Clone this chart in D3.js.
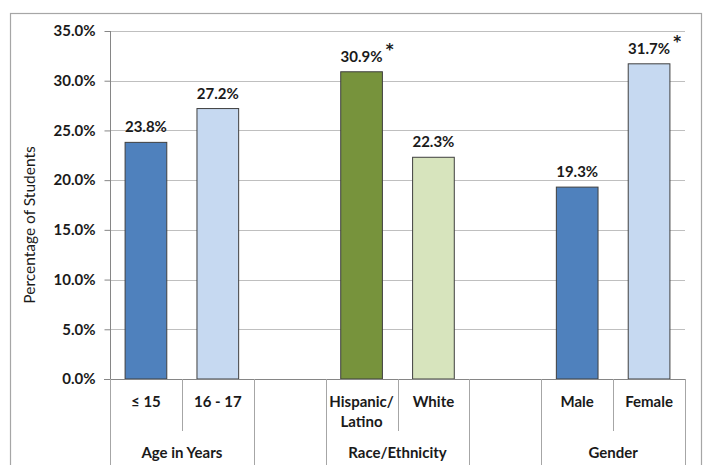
<!DOCTYPE html>
<html>
<head>
<meta charset="utf-8">
<script src="https://cdn.jsdelivr.net/npm/d3@7"></script>
<style>
  html, body { margin: 0; padding: 0; background: #fff; }
  svg { display: block; }
  text { font-family: Lato, "Open Sans", sans-serif; fill: #1a1a1a; }
</style>
</head>
<body>
<svg id="chart" width="709" height="465"></svg>
<script>
// ---- data ----
const slots = ["s0", "s1", "s2", "s3", "s4", "s5", "s6", "s7"];
const categoryLabels = ["≤ 15", "16 - 17", "", "Hispanic/|Latino", "White", "", "Male", "Female"];
const values = [23.8, 27.2, null, 30.9, 22.3, null, 19.3, 31.7];
const significant = [false, false, false, true, false, false, false, true];
const groupLabels = ["Age in Years", "", "Race/Ethnicity", "", "Gender"];
const groupSpans = [[0, 1], [2, 2], [3, 4], [5, 5], [6, 7]];
const yTicks = [0, 5, 10, 15, 20, 25, 30, 35];
const yTitle = "Percentage of Students";

// ---- styles ----
const barColors = ["#4F81BD", "#C6D9F1", "#fff", "#77933C", "#D7E4BD", "#fff", "#4F81BD", "#C6D9F1"];

const svg = d3.select("#chart");
const pLeft = 110, pRight = 685, pTop = 31, pBottom = 379;

// outer frame
svg.append("rect")
  .attr("x", 10.5).attr("y", 13.5).attr("width", 691).attr("height", 470)
  .attr("fill", "none").attr("stroke", "#A6A6A6").attr("stroke-width", 1.2);

const x = d3.scaleBand().domain(slots).range([pLeft, pRight]).paddingInner(0.42).paddingOuter(0.21);
const slotScale = d3.scaleBand().domain(slots).range([pLeft, pRight]).padding(0);
const y = d3.scaleLinear().domain([0, 35]).range([pBottom, pTop]);
const color = d3.scaleOrdinal().domain(slots).range(barColors);

// gridlines
svg.append("g").selectAll("line").data(yTicks.filter(d => d > 0)).join("line")
  .attr("x1", pLeft).attr("x2", pRight)
  .attr("y1", d => Math.round(y(d)) + 0.5).attr("y2", d => Math.round(y(d)) + 0.5)
  .attr("stroke", "#BFBFBF").attr("stroke-width", 1);

// y axis
const yAxis = svg.append("g").attr("transform", `translate(${pLeft + 0.5},0)`)
  .call(d3.axisLeft(y).tickValues(yTicks).tickSize(6).tickPadding(9)
    .tickFormat(d => d3.format(".1f")(d) + "%"));
yAxis.select(".domain").attr("stroke", "#868686").attr("d", `M0,${pTop}V${pBottom}`);
yAxis.selectAll(".tick line").attr("stroke", "#868686");
yAxis.selectAll(".tick text").style("font-family", "Lato, sans-serif")
  .style("font-size", "15px").style("font-weight", "bold").attr("fill", "#1a1a1a");

// y title
svg.append("text")
  .attr("transform", `translate(35,225) rotate(-90)`)
  .attr("text-anchor", "middle")
  .style("font-size", "15.5px")
  .text(yTitle);

// bars
const barData = slots.map((s, i) => ({ s, v: values[i], sig: significant[i] })).filter(d => d.v != null);
svg.append("g").selectAll("rect").data(barData).join("rect")
  .attr("x", d => x(d.s))
  .attr("y", d => y(d.v))
  .attr("width", x.bandwidth())
  .attr("height", d => y(0) - y(d.v))
  .attr("fill", d => color(d.s))
  .attr("stroke", "#3F3F3F").attr("stroke-width", 1);

// value labels
const lbl = svg.append("g").selectAll("g").data(barData).join("g");
lbl.append("text")
  .attr("x", d => x(d.s) + x.bandwidth() / 2)
  .attr("y", d => y(d.v) - 10)
  .attr("text-anchor", "middle")
  .style("font-size", "15px").style("font-weight", "bold")
  .text(d => d3.format(".1f")(d.v) + "%");
lbl.filter(d => d.sig).append("text")
  .attr("x", d => x(d.s) + x.bandwidth() / 2 + 28)
  .attr("y", d => y(d.v) - 17)
  .attr("text-anchor", "middle")
  .style("font-family", "'DejaVu Sans', sans-serif")
  .style("font-size", "15px").style("font-weight", "bold").attr("fill", "#000")
  .text("*");

// x axis baseline
svg.append("line").attr("x1", pLeft - 6).attr("x2", pRight)
  .attr("y1", pBottom + 0.5).attr("y2", pBottom + 0.5)
  .attr("stroke", "#868686");

// category dividers
const groupEdges = new Set();
groupSpans.forEach(([a, b]) => { groupEdges.add(a); groupEdges.add(b + 1); });
const divs = d3.range(slots.length + 1);
svg.append("g").selectAll("line").data(divs).join("line")
  .attr("x1", i => Math.round(i < slots.length ? slotScale(slots[i]) : pRight) + 0.5)
  .attr("x2", i => Math.round(i < slots.length ? slotScale(slots[i]) : pRight) + 0.5)
  .attr("y1", pBottom)
  .attr("y2", i => groupEdges.has(i) ? 465 : 431)
  .attr("stroke", "#A6A6A6");

// category labels
const cat = svg.append("g").selectAll("text").data(slots).join("text")
  .attr("x", s => slotScale(s) + slotScale.bandwidth() / 2)
  .attr("y", 407)
  .attr("text-anchor", "middle")
  .style("font-size", "15px").style("font-weight", "bold");
cat.each(function(s, i) {
  const parts = categoryLabels[i].split("|");
  const t = d3.select(this);
  parts.forEach((p, j) => {
    t.append("tspan").attr("x", slotScale(s) + slotScale.bandwidth() / 2)
      .attr("dy", j === 0 ? 0 : 20).text(p);
  });
});

// group labels
svg.append("g").selectAll("text").data(groupSpans).join("text")
  .attr("x", ([a, b]) => (slotScale(slots[a]) + slotScale(slots[b]) + slotScale.bandwidth()) / 2)
  .attr("y", 458)
  .attr("text-anchor", "middle")
  .style("font-size", "15px").style("font-weight", "bold")
  .text((d, i) => groupLabels[i]);
</script>
</body>
</html>
